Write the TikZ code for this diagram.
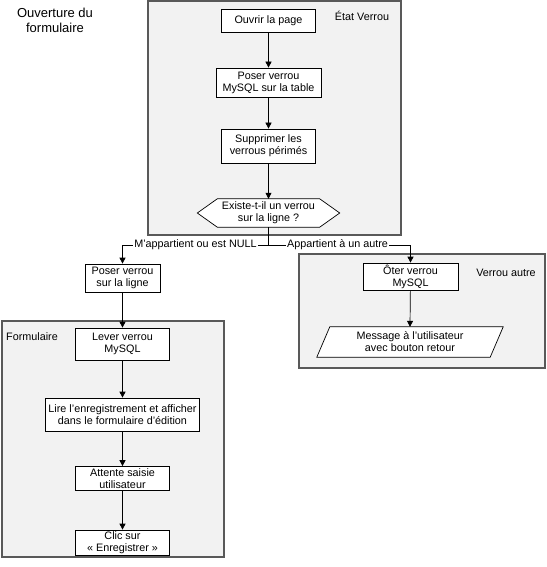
\documentclass[tikz,border=0pt]{standalone}
\usepackage{fontspec}
\setmainfont{Liberation Sans}
\usetikzlibrary{arrows.meta}
\begin{document}
\begin{tikzpicture}[x=1pt,y=-1pt,
  every node/.style={font=\fontsize{10.8}{12}\selectfont},
  container/.style={draw=black!65, line width=1.4pt, fill=black!5},
  stepbox/.style={draw=black, line width=0.7pt, fill=white, align=center, inner sep=0pt},
  ghost/.style={inner sep=0pt, align=center},
  shapeline/.style={draw=black, line width=0.7pt, fill=white},
  flow/.style={draw=black, line width=0.7pt, -{Triangle[length=6pt,width=6pt]}},
  plain/.style={draw=black, line width=0.7pt},
  lbl/.style={fill=white, inner sep=1pt}
]
\useasboundingbox (0,0) rectangle (546,567);

% containers
\path[container] (148,1) rectangle (401,235);
\path[container] (299,254) rectangle (545,368);
\path[container] (2,321) rectangle (224,557);

% container labels and title
\node[ghost] (etatlbl) at (362,16) {État Verrou};
\node[ghost] (autrelbl) at (506,273) {Verrou autre};
\node[ghost] (formlbl) at (32,337) {Formulaire};
\node[ghost, font=\fontsize{13}{15}\selectfont] (title) at (55,20.5) {Ouverture du\\formulaire};

% top column
\node[stepbox, minimum width=94, minimum height=23] (ouv) at (268.5,20.75) {Ouvrir la page};
\node[stepbox, minimum width=105, minimum height=29] (posT) at (268.5,82.5) {Poser verrou\\MySQL sur la table};
\node[stepbox, minimum width=94, minimum height=34] (sup) at (268.5,146) {Supprimer les\\verrous périmés};

% decision hexagon
\node[ghost, minimum width=142, minimum height=28] (dec) at (268.5,213) {};
\path[shapeline] (dec.west) -- ([xshift=20pt]dec.north west) -- ([xshift=-20pt]dec.north east)
  -- (dec.east) -- ([xshift=-20pt]dec.south east) -- ([xshift=20pt]dec.south west) -- cycle;
\node[ghost] (dectext) at (dec.center) {Existe-t-il un verrou\\sur la ligne ?};

% left branch
\node[stepbox, minimum width=75, minimum height=28] (posL) at (122.5,278) {Poser verrou\\sur la ligne};
\node[stepbox, minimum width=94, minimum height=32] (lev) at (122.5,344) {Lever verrou\\MySQL};
\node[stepbox, minimum width=154, minimum height=33] (lire) at (122.5,414.5) {Lire l'enregistrement et afficher\\dans le formulaire d'édition};
\node[stepbox, minimum width=94, minimum height=24] (att) at (122.5,478.5) {Attente saisie\\utilisateur};
\node[stepbox, minimum width=94, minimum height=25] (clic) at (122.5,542.5) {Clic sur\\«~Enregistrer~»};

% right branch
\node[stepbox, minimum width=95, minimum height=27] (ot) at (410.5,276.5) {Ôter verrou\\MySQL};
\node[ghost, minimum width=186, minimum height=30] (msg) at (410,342) {};
\path[shapeline] (msg.south west) -- ([xshift=-13pt]msg.south east) -- (msg.north east)
  -- ([xshift=13pt]msg.north west) -- cycle;
\node[ghost] (msgtext) at (msg.center) {Message à l'utilisateur\\avec bouton retour};

% connectors
\draw[flow] (ouv) -- (posT);
\draw[flow] (posT) -- (sup);
\draw[flow] (sup) -- (dec.north);
\coordinate (j) at (268.5,245);
\draw[plain] (dec.south) -- (j);
\draw[flow] (j) -| (posL.north);
\draw[flow] (j) -| (ot.north);
\draw[flow] (posL) -- (lev);
\draw[flow] (lev) -- (lire);
\draw[flow] (lire) -- (att);
\draw[flow] (att) -- (clic);
\draw[flow] (ot) -- (msg.north);

\node[lbl] (lblA) at (195.5,245) {M'appartient ou est NULL};
\node[lbl] (lblB) at (337.5,245) {Appartient à un autre};
\end{tikzpicture}
\end{document}
